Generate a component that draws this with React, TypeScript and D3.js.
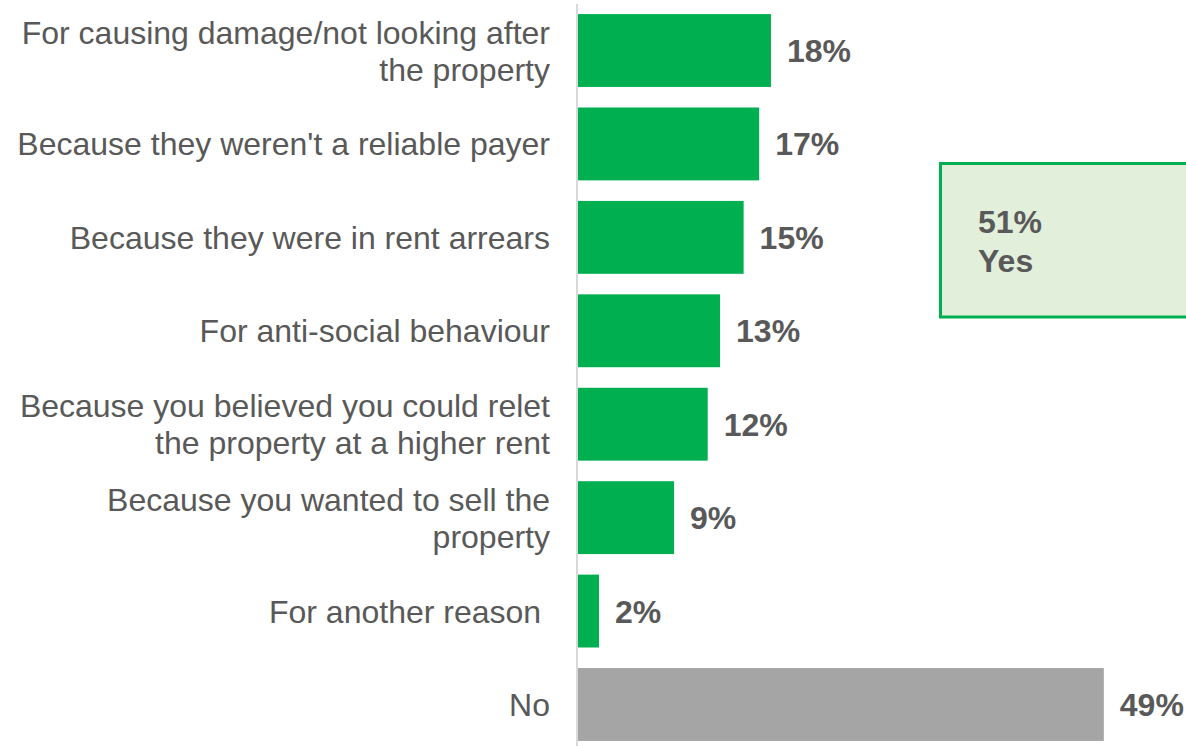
import React from "react";
import * as d3 from "d3";

const categories: string[][] = [
  ["For causing damage/not looking after", "the property"],
  ["Because they weren't a reliable payer"],
  ["Because they were in rent arrears"],
  ["For anti-social behaviour"],
  ["Because you believed you could relet", "the property at a higher rent"],
  ["Because you wanted to sell the", "property"],
  ["For another reason "],
  ["No"],
];
const values: number[] = [18.0, 16.9, 15.45, 13.25, 12.1, 8.96, 1.96, 49.05];
const barColors: string[] = ["#00B050", "#00B050", "#00B050", "#00B050", "#00B050", "#00B050", "#00B050", "#A5A5A5"];
const yesLabel: string[] = ["51%", "Yes"];

const W = 1186;
const H = 746;
const TEXT = "#595959";
const FONT = "'Liberation Sans', Arial, sans-serif";

export default function App() {
  const x = d3.scaleLinear().domain([0, 50]).range([578, 578 + 536]);
  const y = d3
    .scaleBand<number>()
    .domain(d3.range(categories.length))
    .range([3.8, 751.2])
    .paddingInner(0.22)
    .paddingOuter(0.11);
  const bw = y.bandwidth();
  const lineH = 37;

  return (
    <svg
      width={W}
      height={H}
      style={{ position: "fixed", left: 0, top: 0, background: "#fff" }}
      fontFamily={FONT}
    >
      <rect x={0} y={0} width={W} height={H} fill="#fff" />
      {values.map((v, i) => {
        const y0 = y(i) as number;
        const cy = y0 + bw / 2;
        const lines = categories[i];
        return (
          <g key={i}>
            <rect x={x(0)} y={y0} width={x(v) - x(0)} height={bw} fill={barColors[i]} />
            <text
              x={x(v) + 16}
              y={cy}
              dy="0.36em"
              fill={TEXT}
              fontSize={32}
              fontWeight="bold"
            >
              {`${Math.round(v)}%`}
            </text>
            <text
              x={550}
              textAnchor="end"
              fill={TEXT}
              fontSize={32}
              style={{ whiteSpace: "pre" }}
            >
              {lines.map((l, j) => (
                <tspan
                  key={j}
                  x={550}
                  y={cy + (j - (lines.length - 1) / 2) * lineH}
                  dy="0.36em"
                >
                  {l}
                </tspan>
              ))}
            </text>
          </g>
        );
      })}
      <line x1={577} x2={577} y1={4} y2={H} stroke="#D9D9D9" strokeWidth={2} />
      <rect
        x={940.5}
        y={163.5}
        width={300}
        height={153.5}
        fill="#E2EFDA"
        stroke="#00B050"
        strokeWidth={3}
      />
      {yesLabel.map((t, i) => (
        <text
          key={t}
          x={978}
          y={221 + i * 39}
          dy="0.36em"
          fill={TEXT}
          fontSize={32}
          fontWeight="bold"
        >
          {t}
        </text>
      ))}
    </svg>
  );
}
